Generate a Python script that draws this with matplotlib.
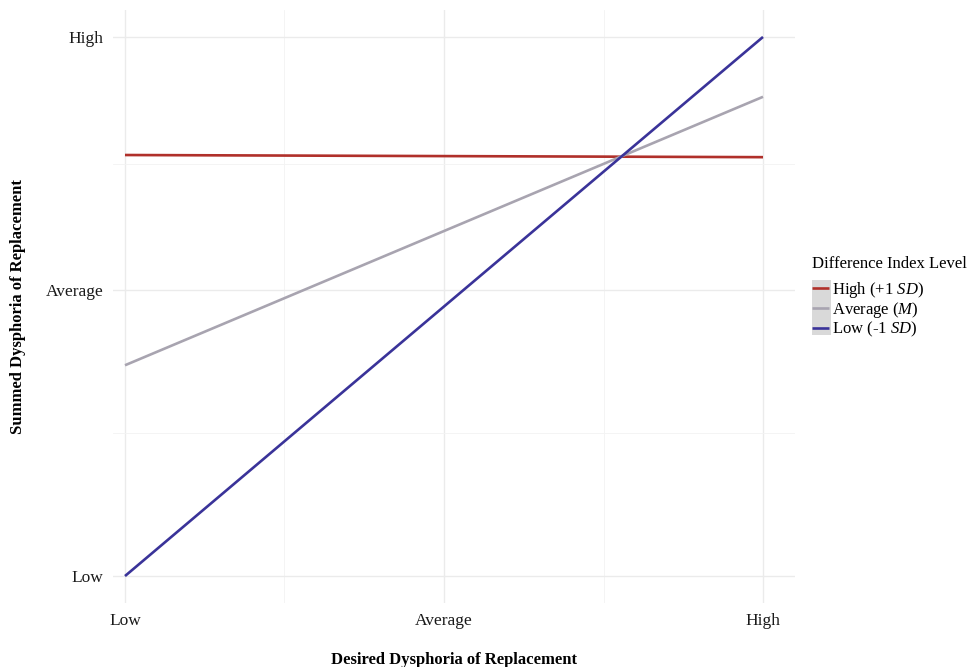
import numpy as np
import matplotlib.pyplot as plt
from matplotlib.patches import Rectangle

plt.rcParams['font.family'] = ['Liberation Serif', 'DejaVu Serif']
plt.rcParams['mathtext.fontset'] = 'custom'
plt.rcParams['mathtext.rm'] = 'Liberation Serif'
plt.rcParams['mathtext.it'] = 'Liberation Serif:italic'

# desired dysphoria (x): Low / Average / High
x_levels = [-1.0, 0.0, 1.0]
x_labels = ['Low', 'Average', 'High']

# summed dysphoria tick positions
y_ticks = [0.0, 0.53, 1.0]
y_labels = ['Low', 'Average', 'High']

# simple slopes, values at x = Low and x = High
x_ends = [-1.0, 1.0]
high_sd = [0.781, 0.777]
avg_m = [0.391, 0.889]
low_sd = [0.0, 1.0]

series_names = ['High (+1 $SD$)', 'Average ($M$)', 'Low (-1 $SD$)']
series_colors = ['#B0302A', '#A8A4B0', '#3A3399']

fig = plt.figure(figsize=(9.71, 6.67), dpi=100)
ax = fig.add_axes([113 / 971, 64 / 667, 682 / 971, 593 / 667])

for vals, name, col in zip([high_sd, avg_m, low_sd], series_names, series_colors):
    ax.plot(x_ends, vals, color=col, linewidth=1.9, label=name, solid_capstyle='butt')

ax.set_xlim(-1.0376, 1.1003)
ax.set_ylim(-0.050, 1.050)
ax.set_xticks(x_levels)
ax.set_xticklabels(x_labels)
ax.set_yticks(y_ticks)
ax.set_yticklabels(y_labels)
ax.set_xticks([-0.5, 0.5], minor=True)
ax.set_yticks([(y_ticks[0] + y_ticks[1]) / 2, (y_ticks[1] + y_ticks[2]) / 2], minor=True)

ax.grid(which='major', color='#EBEBEB', linewidth=1.0)
ax.grid(which='minor', color='#F3F3F3', linewidth=0.6)
ax.set_axisbelow(True)
for s in ax.spines.values():
    s.set_visible(False)
ax.tick_params(which='both', length=0, labelsize=12.5, colors='#1A1A1A', pad=7)

ax.set_xlabel('Desired Dysphoria of Replacement', fontsize=12, fontweight='bold', labelpad=16.5)
ax.set_ylabel('Summed Dysphoria of Replacement', fontsize=12, fontweight='bold', labelpad=14)

# gray key background like the original legend
fig.patches.append(Rectangle((812 / 971, 1 - 335 / 667), 19 / 971, 55 / 667,
                             transform=fig.transFigure, facecolor='#D9D9D9',
                             edgecolor='none', zorder=-1))

leg = ax.legend(title='Difference Index Level', loc='upper left',
                bbox_to_anchor=(1.015, 0.597), bbox_transform=ax.transAxes,
                frameon=False, fontsize=12, title_fontsize=12,
                handlelength=1.0, handletextpad=0.2, labelspacing=0.0,
                borderaxespad=0)
leg._legend_box.align = 'left'
leg._legend_box.sep = 6

fig.savefig('out.png', dpi=100)
